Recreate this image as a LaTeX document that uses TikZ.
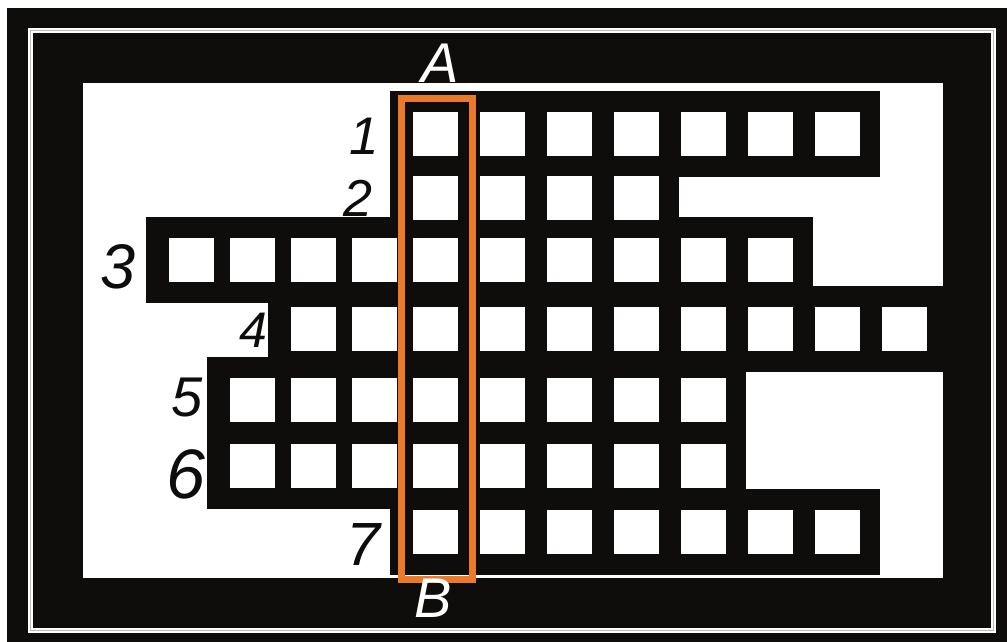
\documentclass[tikz,border=0pt]{standalone}
\usepackage{fontspec}
\newfontfamily\labfont{Liberation Sans}
\definecolor{orng}{RGB}{232,122,42}
\definecolor{ink}{RGB}{14,13,12}
\newcommand\dfont[1]{\labfont\itshape\fontsize{#1}{#1}\selectfont}
\newcommand\numlabel[5]{%
  \node[numtxt, font=\dfont{#4}] (#1) at (#2,#3) {#5};}
\newcommand\colendlabel[5]{%
  \node[endtxt, font=\dfont{#4}] (#1) at (#2,#3) {#5};}
\usetikzlibrary{calc}
\begin{document}
\begin{tikzpicture}[x=1pt,y=-1pt,
  cellbar/.style={fill=ink},
  cellsq/.style={fill=white},
  framebox/.style={fill=ink},
  numtxt/.style={inner sep=0pt, text=ink},
  endtxt/.style={inner sep=0pt, text=white},
  colmark/.style={draw=orng, line width=7pt}]
\useasboundingbox (0,0) rectangle (1007,642);
\fill[white] (0,0) rectangle (1007,642);
% outer frame
\fill[framebox] (7,8) rectangle (1007,642);
\draw[white, line width=5pt] (30.5,30.5) rectangle (993,630);
\draw[gray!55, line width=0.6pt] (30.5,30.5) rectangle (993,630);
\fill[white] (83,83) rectangle (943,578);
% rows of the crossword
\foreach \y/\a/\b in {134/0/6, 198/0/3, 260/-4/5, 329/-2/7, 400/-3/4, 466/-3/4, 532/0/6} {
  \pgfmathsetmacro\xa{\a<0 ? 435+61*\a : 435+67*\a}
  \pgfmathsetmacro\xb{\b<0 ? 435+61*\b : 435+67*\b}
  \fill[cellbar] ({\xa-45},{\y-43}) rectangle ({min(\xb+43,943)},{\y+43});
}
\foreach \y/\a/\b in {134/0/6, 198/0/3, 260/-4/5, 329/-2/7, 400/-3/4, 466/-3/4, 532/0/6} {
  \foreach \c in {\a,...,\b} {
    \pgfmathsetmacro\xc{\c<0 ? 435+61*\c : 435+67*\c}
    \fill[cellsq] ({\xc-22.5},{\y-22}) rectangle ({\xc+22.5},{\y+22});
  }
}
% highlighted column
\draw[colmark] (401,98) rectangle (472,579);
% labels
\numlabel{n1}{364}{136}{53}{1}
\numlabel{n2}{358}{198}{52}{2}
\numlabel{n3}{118}{267}{63}{3}
\numlabel{n4}{253}{330}{50}{4}
\numlabel{n5}{187}{398}{56}{5}
\numlabel{n6}{186}{474}{70}{6}
\numlabel{n7}{363}{545}{61}{7}
\colendlabel{la}{440}{63}{56}{A}
\colendlabel{lb}{433}{598}{56}{B}
\end{tikzpicture}
\end{document}
